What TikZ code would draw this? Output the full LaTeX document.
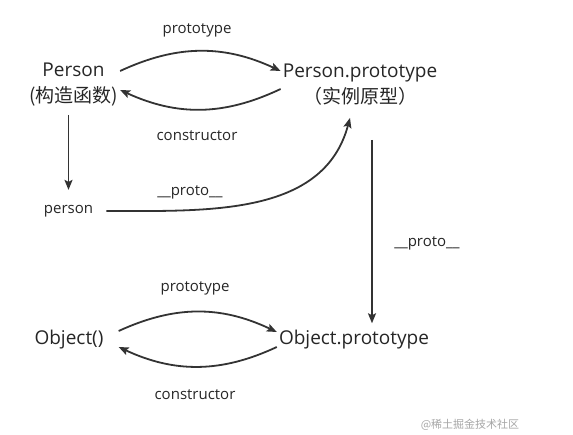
\documentclass[tikz,border=0pt]{standalone}
\usepackage{fontspec}
\setmainfont{Open Sans}
\newfontfamily\cjk{Noto Sans CJK SC}
\usetikzlibrary{arrows.meta}
\begin{document}
\begin{tikzpicture}[x=1pt,y=1pt,
  every node/.style={text=black!85},
  main/.style={inner sep=2pt, font=\fontsize{19}{26}\selectfont, align=center},
  lbl/.style={inner sep=1pt, font=\fontsize{15}{18}\selectfont},
  arr/.style={line width=1.8pt, draw=black!80, -{Stealth[length=10pt,width=8pt,inset=2pt]}}]
\useasboundingbox (0,0) rectangle (573,-435);
% nodes
\node[main] (P) at (73.5,-85) {Person\\{\cjk (构造函数)}};
\node[main] (PP) at (360,-85) {Person.prototype\\{\cjk （实例原型）}};
\node[lbl] (person) at (68.5,-211) {person};
\node[main] (O) at (69,-340) {Object()};
\node[main] (OP) at (354,-340) {Object.prototype};
% labels
\node[lbl] (l1) at (197,-30) {prototype};
\node[lbl] (l2) at (197,-136) {constructor};
\node[lbl] (l3) at (190,-192) {\_\_proto\_\_};
\node[lbl] (l4) at (427,-243) {\_\_proto\_\_};
\node[lbl] (l5) at (195,-288) {prototype};
\node[lbl] (l6) at (195,-395) {constructor};
\node[inner sep=0pt, text=black!35, font=\cjk\fontsize{11}{13}\selectfont] (wm) at (470,-425) {@稀土掘金技术社区};
% connectors
\draw[arr] ([yshift=-6]person.north |- P.south) -- ([yshift=14]person.north);
\draw[arr] ([yshift=14]P.east) to[bend left=25] ([yshift=14]PP.west);
\draw[arr] ([yshift=-4]PP.west) to[bend left=25] ([yshift=-5]P.east);
\draw[arr] ([xshift=12]person.east) to[out=0,in=-105] ([xshift=-10,yshift=-10]PP.south);
\draw[arr] ([xshift=12,yshift=-32]PP.south) -- ([xshift=18,yshift=5]OP.north);
\draw[arr] ([xshift=13,yshift=9]O.east) to[bend left=25] ([yshift=8]OP.west);
\draw[arr] ([yshift=-7]OP.west) to[bend left=25] ([xshift=13,yshift=-7]O.east);
\end{tikzpicture}
\end{document}
